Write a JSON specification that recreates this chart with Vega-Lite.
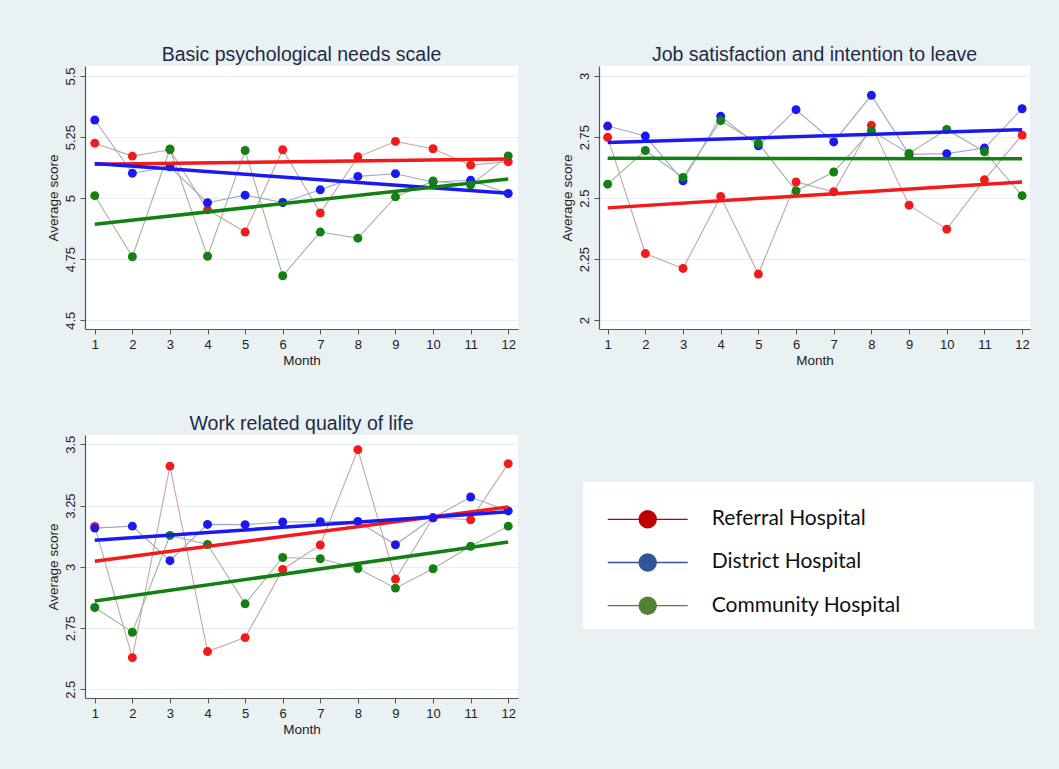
{
  "$schema": "https://vega.github.io/schema/vega-lite/v6.json",
  "background": "#e9f1f3",
  "padding": {"left": 45, "top": 44, "right": 26, "bottom": 34},
  "datasets": {
    "pts": [
      {"p":"A","h":"Referral Hospital","m":1,"s":5.225},{"p":"A","h":"Referral Hospital","m":2,"s":5.172},{"p":"A","h":"Referral Hospital","m":3,"s":5.198},{"p":"A","h":"Referral Hospital","m":4,"s":4.952},{"p":"A","h":"Referral Hospital","m":5,"s":4.861},{"p":"A","h":"Referral Hospital","m":6,"s":5.198},{"p":"A","h":"Referral Hospital","m":7,"s":4.939},{"p":"A","h":"Referral Hospital","m":8,"s":5.169},{"p":"A","h":"Referral Hospital","m":9,"s":5.232},{"p":"A","h":"Referral Hospital","m":10,"s":5.202},{"p":"A","h":"Referral Hospital","m":11,"s":5.135},{"p":"A","h":"Referral Hospital","m":12,"s":5.149},
      {"p":"A","h":"District Hospital","m":1,"s":5.320},{"p":"A","h":"District Hospital","m":2,"s":5.102},{"p":"A","h":"District Hospital","m":3,"s":5.128},{"p":"A","h":"District Hospital","m":4,"s":4.981},{"p":"A","h":"District Hospital","m":5,"s":5.012},{"p":"A","h":"District Hospital","m":6,"s":4.982},{"p":"A","h":"District Hospital","m":7,"s":5.034},{"p":"A","h":"District Hospital","m":8,"s":5.089},{"p":"A","h":"District Hospital","m":9,"s":5.100},{"p":"A","h":"District Hospital","m":10,"s":5.066},{"p":"A","h":"District Hospital","m":11,"s":5.073},{"p":"A","h":"District Hospital","m":12,"s":5.019},
      {"p":"A","h":"Community Hospital","m":1,"s":5.010},{"p":"A","h":"Community Hospital","m":2,"s":4.760},{"p":"A","h":"Community Hospital","m":3,"s":5.201},{"p":"A","h":"Community Hospital","m":4,"s":4.762},{"p":"A","h":"Community Hospital","m":5,"s":5.195},{"p":"A","h":"Community Hospital","m":6,"s":4.682},{"p":"A","h":"Community Hospital","m":7,"s":4.861},{"p":"A","h":"Community Hospital","m":8,"s":4.836},{"p":"A","h":"Community Hospital","m":9,"s":5.005},{"p":"A","h":"Community Hospital","m":10,"s":5.070},{"p":"A","h":"Community Hospital","m":11,"s":5.054},{"p":"A","h":"Community Hospital","m":12,"s":5.173},
      {"p":"B","h":"Referral Hospital","m":1,"s":2.749},{"p":"B","h":"Referral Hospital","m":2,"s":2.273},{"p":"B","h":"Referral Hospital","m":3,"s":2.212},{"p":"B","h":"Referral Hospital","m":4,"s":2.507},{"p":"B","h":"Referral Hospital","m":5,"s":2.189},{"p":"B","h":"Referral Hospital","m":6,"s":2.566},{"p":"B","h":"Referral Hospital","m":7,"s":2.526},{"p":"B","h":"Referral Hospital","m":8,"s":2.798},{"p":"B","h":"Referral Hospital","m":9,"s":2.471},{"p":"B","h":"Referral Hospital","m":10,"s":2.373},{"p":"B","h":"Referral Hospital","m":11,"s":2.575},{"p":"B","h":"Referral Hospital","m":12,"s":2.758},
      {"p":"B","h":"District Hospital","m":1,"s":2.795},{"p":"B","h":"District Hospital","m":2,"s":2.754},{"p":"B","h":"District Hospital","m":3,"s":2.571},{"p":"B","h":"District Hospital","m":4,"s":2.835},{"p":"B","h":"District Hospital","m":5,"s":2.714},{"p":"B","h":"District Hospital","m":6,"s":2.862},{"p":"B","h":"District Hospital","m":7,"s":2.730},{"p":"B","h":"District Hospital","m":8,"s":2.921},{"p":"B","h":"District Hospital","m":9,"s":2.679},{"p":"B","h":"District Hospital","m":10,"s":2.682},{"p":"B","h":"District Hospital","m":11,"s":2.705},{"p":"B","h":"District Hospital","m":12,"s":2.866},
      {"p":"B","h":"Community Hospital","m":1,"s":2.557},{"p":"B","h":"Community Hospital","m":2,"s":2.695},{"p":"B","h":"Community Hospital","m":3,"s":2.585},{"p":"B","h":"Community Hospital","m":4,"s":2.817},{"p":"B","h":"Community Hospital","m":5,"s":2.724},{"p":"B","h":"Community Hospital","m":6,"s":2.529},{"p":"B","h":"Community Hospital","m":7,"s":2.607},{"p":"B","h":"Community Hospital","m":8,"s":2.776},{"p":"B","h":"Community Hospital","m":9,"s":2.683},{"p":"B","h":"Community Hospital","m":10,"s":2.781},{"p":"B","h":"Community Hospital","m":11,"s":2.690},{"p":"B","h":"Community Hospital","m":12,"s":2.510},
      {"p":"C","h":"Referral Hospital","m":1,"s":3.165},{"p":"C","h":"Referral Hospital","m":2,"s":2.629},{"p":"C","h":"Referral Hospital","m":3,"s":3.411},{"p":"C","h":"Referral Hospital","m":4,"s":2.654},{"p":"C","h":"Referral Hospital","m":5,"s":2.711},{"p":"C","h":"Referral Hospital","m":6,"s":2.989},{"p":"C","h":"Referral Hospital","m":7,"s":3.089},{"p":"C","h":"Referral Hospital","m":8,"s":3.478},{"p":"C","h":"Referral Hospital","m":9,"s":2.950},{"p":"C","h":"Referral Hospital","m":10,"s":3.200},{"p":"C","h":"Referral Hospital","m":11,"s":3.192},{"p":"C","h":"Referral Hospital","m":12,"s":3.421},
      {"p":"C","h":"District Hospital","m":1,"s":3.158},{"p":"C","h":"District Hospital","m":2,"s":3.166},{"p":"C","h":"District Hospital","m":3,"s":3.025},{"p":"C","h":"District Hospital","m":4,"s":3.173},{"p":"C","h":"District Hospital","m":5,"s":3.172},{"p":"C","h":"District Hospital","m":6,"s":3.183},{"p":"C","h":"District Hospital","m":7,"s":3.184},{"p":"C","h":"District Hospital","m":8,"s":3.185},{"p":"C","h":"District Hospital","m":9,"s":3.090},{"p":"C","h":"District Hospital","m":10,"s":3.200},{"p":"C","h":"District Hospital","m":11,"s":3.285},{"p":"C","h":"District Hospital","m":12,"s":3.228},
      {"p":"C","h":"Community Hospital","m":1,"s":2.834},{"p":"C","h":"Community Hospital","m":2,"s":2.733},{"p":"C","h":"Community Hospital","m":3,"s":3.128},{"p":"C","h":"Community Hospital","m":4,"s":3.091},{"p":"C","h":"Community Hospital","m":5,"s":2.849},{"p":"C","h":"Community Hospital","m":6,"s":3.038},{"p":"C","h":"Community Hospital","m":7,"s":3.033},{"p":"C","h":"Community Hospital","m":8,"s":2.993},{"p":"C","h":"Community Hospital","m":9,"s":2.913},{"p":"C","h":"Community Hospital","m":10,"s":2.992},{"p":"C","h":"Community Hospital","m":11,"s":3.084},{"p":"C","h":"Community Hospital","m":12,"s":3.166}
    ],
    "fit": [
      {"p":"A","h":"Referral Hospital","m":1,"s":5.139},{"p":"A","h":"Referral Hospital","m":12,"s":5.160},
      {"p":"A","h":"District Hospital","m":1,"s":5.142},{"p":"A","h":"District Hospital","m":12,"s":5.020},
      {"p":"A","h":"Community Hospital","m":1,"s":4.893},{"p":"A","h":"Community Hospital","m":12,"s":5.078},
      {"p":"B","h":"Referral Hospital","m":1,"s":2.460},{"p":"B","h":"Referral Hospital","m":12,"s":2.566},
      {"p":"B","h":"District Hospital","m":1,"s":2.728},{"p":"B","h":"District Hospital","m":12,"s":2.780},
      {"p":"B","h":"Community Hospital","m":1,"s":2.663},{"p":"B","h":"Community Hospital","m":12,"s":2.661},
      {"p":"C","h":"Referral Hospital","m":1,"s":3.023},{"p":"C","h":"Referral Hospital","m":12,"s":3.244},
      {"p":"C","h":"District Hospital","m":1,"s":3.108},{"p":"C","h":"District Hospital","m":12,"s":3.225},
      {"p":"C","h":"Community Hospital","m":1,"s":2.860},{"p":"C","h":"Community Hospital","m":12,"s":3.101}
    ],
    "legend": [
      {"label":"Referral Hospital","o":1},
      {"label":"District Hospital","o":2},
      {"label":"Community Hospital","o":3}
    ]
  },
  "columns": 2,
  "bounds": "flush",
  "spacing": {"row": 106, "column": 81},
  "resolve": {"scale": {"color": "independent", "stroke": "independent"}},
  "concat": [
    {
      "width": 433, "height": 263,
      "title": {"text": "Basic psychological needs scale"},
      "encoding": {
        "x": {"field": "m", "type": "quantitative", "scale": {"domain": [0.74, 12.26], "nice": false, "zero": false}, "axis": {"values": [1,2,3,4,5,6,7,8,9,10,11,12], "format": "d", "title": "Month", "grid": false}},
        "y": {"field": "s", "type": "quantitative", "scale": {"domain": [4.464, 5.541], "nice": false, "zero": false}, "axis": {"values": [4.5, 4.75, 5, 5.25, 5.5], "format": ".2~f", "title": "Average score", "grid": true}}
      },
      "layer": [
        {"data": {"name": "pts"}, "transform": [{"filter": "datum.p === 'A'"}], "mark": {"type": "line", "strokeWidth": 1.1},
         "encoding": {"stroke": {"field": "h", "type": "nominal", "scale": {"domain": ["Referral Hospital","District Hospital","Community Hospital"], "range": ["#c9a3a5","#a4a6c6","#a0b59f"]}, "legend": null}}},
        {"data": {"name": "pts"}, "transform": [{"filter": "datum.p === 'A'"}], "mark": {"type": "point", "filled": true, "size": 80, "opacity": 1},
         "encoding": {"color": {"field": "h", "type": "nominal", "scale": {"domain": ["Referral Hospital","District Hospital","Community Hospital"], "range": ["#f21a1a","#1a1aef","#128012"]}, "legend": null}}},
        {"data": {"name": "fit"}, "transform": [{"filter": "datum.p === 'A'"}], "mark": {"type": "line", "strokeWidth": 3.5},
         "encoding": {"color": {"field": "h", "type": "nominal", "scale": {"domain": ["Referral Hospital","District Hospital","Community Hospital"], "range": ["#f21a1a","#1a1aef","#128012"]}, "legend": null}}}
      ]
    },
    {
      "width": 431, "height": 263,
      "title": {"text": "Job satisfaction and intention to leave"},
      "encoding": {
        "x": {"field": "m", "type": "quantitative", "scale": {"domain": [0.77, 12.21], "nice": false, "zero": false}, "axis": {"values": [1,2,3,4,5,6,7,8,9,10,11,12], "format": "d", "title": "Month", "grid": false}},
        "y": {"field": "s", "type": "quantitative", "scale": {"domain": [1.964, 3.041], "nice": false, "zero": false}, "axis": {"values": [2, 2.25, 2.5, 2.75, 3], "format": ".2~f", "title": "Average score", "grid": true}}
      },
      "layer": [
        {"data": {"name": "pts"}, "transform": [{"filter": "datum.p === 'B'"}], "mark": {"type": "line", "strokeWidth": 1.1},
         "encoding": {"stroke": {"field": "h", "type": "nominal", "scale": {"domain": ["Referral Hospital","District Hospital","Community Hospital"], "range": ["#c9a3a5","#a4a6c6","#a0b59f"]}, "legend": null}}},
        {"data": {"name": "pts"}, "transform": [{"filter": "datum.p === 'B'"}], "mark": {"type": "point", "filled": true, "size": 80, "opacity": 1},
         "encoding": {"color": {"field": "h", "type": "nominal", "scale": {"domain": ["Referral Hospital","District Hospital","Community Hospital"], "range": ["#f21a1a","#1a1aef","#128012"]}, "legend": null}}},
        {"data": {"name": "fit"}, "transform": [{"filter": "datum.p === 'B'"}], "mark": {"type": "line", "strokeWidth": 3.5},
         "encoding": {"color": {"field": "h", "type": "nominal", "scale": {"domain": ["Referral Hospital","District Hospital","Community Hospital"], "range": ["#f21a1a","#1a1aef","#128012"]}, "legend": null}}}
      ]
    },
    {
      "width": 433, "height": 263,
      "title": {"text": "Work related quality of life"},
      "encoding": {
        "x": {"field": "m", "type": "quantitative", "scale": {"domain": [0.74, 12.26], "nice": false, "zero": false}, "axis": {"values": [1,2,3,4,5,6,7,8,9,10,11,12], "format": "d", "title": "Month", "grid": false}},
        "y": {"field": "s", "type": "quantitative", "scale": {"domain": [2.4645, 3.538], "nice": false, "zero": false}, "axis": {"values": [2.5, 2.75, 3, 3.25, 3.5], "format": ".2~f", "title": "Average score", "grid": true}}
      },
      "layer": [
        {"data": {"name": "pts"}, "transform": [{"filter": "datum.p === 'C'"}], "mark": {"type": "line", "strokeWidth": 1.1},
         "encoding": {"stroke": {"field": "h", "type": "nominal", "scale": {"domain": ["Referral Hospital","District Hospital","Community Hospital"], "range": ["#c9a3a5","#a4a6c6","#a0b59f"]}, "legend": null}}},
        {"data": {"name": "pts"}, "transform": [{"filter": "datum.p === 'C'"}], "mark": {"type": "point", "filled": true, "size": 80, "opacity": 1},
         "encoding": {"color": {"field": "h", "type": "nominal", "scale": {"domain": ["Referral Hospital","District Hospital","Community Hospital"], "range": ["#f21a1a","#1a1aef","#128012"]}, "legend": null}}},
        {"data": {"name": "fit"}, "transform": [{"filter": "datum.p === 'C'"}], "mark": {"type": "line", "strokeWidth": 3.5},
         "encoding": {"color": {"field": "h", "type": "nominal", "scale": {"domain": ["Referral Hospital","District Hospital","Community Hospital"], "range": ["#f21a1a","#1a1aef","#128012"]}, "legend": null}}}
      ]
    },
    {
      "width": 431, "height": 263,
      "view": {"fill": null, "stroke": null},
      "layer": [
        {"data": {"values": [{"box": "legend"}]},
         "mark": {"type": "rect", "fill": "#ffffff"},
         "encoding": {
           "x": {"datum": -0.0371, "type": "quantitative", "scale": {"domain": [0, 1], "nice": false, "zero": false}, "axis": null},
           "x2": {"datum": 1.0093},
           "y": {"datum": 0.1366, "type": "quantitative", "scale": {"domain": [-0.951, 5.137], "reverse": true, "nice": false, "zero": false}, "axis": null},
           "y2": {"datum": 3.539}
         }},
        {"data": {"name": "legend"},
         "mark": {"type": "rule", "strokeWidth": 1.3},
         "encoding": {
           "x": {"datum": 0.0202, "type": "quantitative"}, "x2": {"datum": 0.2058},
           "y": {"field": "o", "type": "quantitative"},
           "color": {"field": "label", "type": "nominal", "scale": {"domain": ["Referral Hospital","District Hospital","Community Hospital"], "range": ["#c00000","#2f5597","#548235"]}, "legend": null}
         }},
        {"data": {"name": "legend"},
         "mark": {"type": "point", "filled": true, "size": 340, "opacity": 1, "shape": "circle"},
         "encoding": {
           "x": {"datum": 0.113, "type": "quantitative"},
           "y": {"field": "o", "type": "quantitative"},
           "color": {"field": "label", "type": "nominal", "scale": {"domain": ["Referral Hospital","District Hospital","Community Hospital"], "range": ["#c00000","#2f5597","#548235"]}, "legend": null}
         }},
        {"data": {"name": "legend"},
         "mark": {"type": "text", "align": "left", "baseline": "middle", "font": "Lato", "fontSize": 21, "color": "#111111"},
         "encoding": {
           "x": {"datum": 0.2615, "type": "quantitative"},
           "y": {"field": "o", "type": "quantitative"},
           "text": {"field": "label"}
         }}
      ]
    }
  ],
  "config": {
    "view": {"fill": "white", "stroke": null},
    "font": "Liberation Sans",
    "axis": {"labelFont": "Liberation Sans", "titleFont": "Liberation Sans", "labelFontSize": 13, "titleFontSize": 13.5, "titleFontWeight": "normal", "labelColor": "#222222", "titleColor": "#222222", "domainColor": "#555555", "tickColor": "#555555", "tickSize": 5, "gridColor": "#e8eded", "domainWidth": 1.2},
    "axisY": {"labelAngle": 270, "labelAlign": "center", "labelBaseline": "bottom", "labelPadding": 3, "titlePadding": 4},
    "axisX": {"labelPadding": 4, "titlePadding": 2, "labelAngle": 0},
    "title": {"font": "Liberation Sans", "fontSize": 19.5, "fontWeight": "normal", "color": "#1f2a48", "offset": 1}
  }
}
